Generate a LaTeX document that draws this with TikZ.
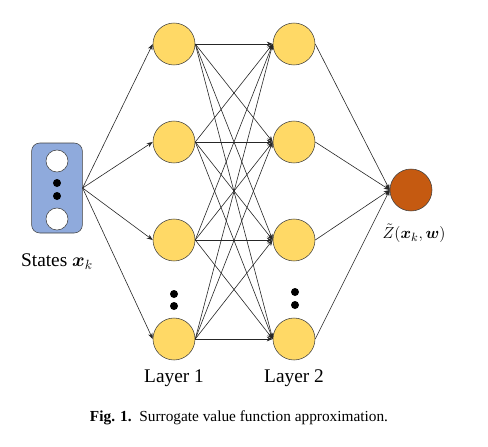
\documentclass[tikz,border=0pt]{standalone}
\usepackage{fontspec}
\setmainfont{Liberation Serif}
\usepackage{bm}
\usetikzlibrary{arrows.meta,positioning}
\definecolor{neuron}{HTML}{FFD966}
\definecolor{inputbox}{HTML}{8FAADC}
\definecolor{outneuron}{HTML}{C55A11}
\tikzset{
  neuron/.style={circle,draw=black!75,fill=neuron,minimum size=31.5pt,inner sep=0pt},
  statebox/.style={rectangle,rounded corners=6pt,draw=black!75,fill=inputbox,
    minimum width=38pt,minimum height=67.5pt},
  slot/.style={circle,draw=black!75,fill=white,minimum size=16.5pt,inner sep=0pt},
  vdot/.style={circle,fill=black,minimum size=6pt,inner sep=0pt},
  conn/.style={-{Stealth[length=4.5pt,width=3.5pt]},black!85,line width=0.45pt},
  lbl/.style={font=\fontsize{14.5}{17}\selectfont,inner sep=1pt}
}

\begin{document}
\begin{tikzpicture}[x=0.75pt,y=-0.75pt]
\useasboundingbox (0,0) rectangle (488,446);

% input
\node[statebox] (inp) at (57,188) {};
\node[slot] (inp-1) at (57,161) {};
\node[slot] (inp-2) at (57,219) {};
\node[vdot] (inpd-1) at (57,183) {};
\node[vdot] (inpd-2) at (57,196) {};
\node[lbl] (inplbl) at (57,262) {States $\bm{x}_k$};

% layer 1
\node[neuron] (l1-1) at (174,44) {};
\node[neuron] (l1-2) at (174,142) {};
\node[neuron] (l1-3) at (174,240) {};
\node[neuron] (l1-4) at (174,339) {};
\node[vdot] (l1d-1) at (174,294) {};
\node[vdot] (l1d-2) at (174,306) {};
\node[lbl] (l1lbl) at (174,378) {Layer 1};

% layer 2
\node[neuron] (l2-1) at (294,44) {};
\node[neuron] (l2-2) at (294,142) {};
\node[neuron] (l2-3) at (294,240) {};
\node[neuron] (l2-4) at (294,339) {};
\node[vdot] (l2d-1) at (295,292) {};
\node[vdot] (l2d-2) at (295,305) {};
\node[lbl] (l2lbl) at (294,378) {Layer 2};

% output
\node[neuron,fill=outneuron] (out) at (411,190) {};
\node[lbl,font=\fontsize{13}{15}\selectfont] (outlbl) at (414,233) {$\tilde{Z}(\bm{x}_k,\bm{w})$};

% input -> layer 1
\draw[conn] (inp.east) -- (l1-1.west);
\draw[conn] (inp.east) -- (l1-2.west);
\draw[conn] (inp.east) -- (l1-3.west);
\draw[conn] (inp.east) -- (l1-4.west);

% layer 1 -> layer 2
\begin{scope}
\draw[conn] (l1-1.east) -- (l2-1.west);
\draw[conn] (l1-1.east) -- (l2-2.west);
\draw[conn] (l1-1.east) -- (l2-3.west);
\draw[conn] (l1-1.east) -- (l2-4.west);
\end{scope}

\begin{scope}
\draw[conn] (l1-2.east) -- (l2-1.west);
\draw[conn] (l1-2.east) -- (l2-2.west);
\draw[conn] (l1-2.east) -- (l2-3.west);
\draw[conn] (l1-2.east) -- (l2-4.west);
\end{scope}

\begin{scope}
\draw[conn] (l1-3.east) -- (l2-1.west);
\draw[conn] (l1-3.east) -- (l2-2.west);
\draw[conn] (l1-3.east) -- (l2-3.west);
\draw[conn] (l1-3.east) -- (l2-4.west);
\end{scope}

\begin{scope}
\draw[conn] (l1-4.east) -- (l2-1.west);
\draw[conn] (l1-4.east) -- (l2-2.west);
\draw[conn] (l1-4.east) -- (l2-3.west);
\draw[conn] (l1-4.east) -- (l2-4.west);
\end{scope}

% layer 2 -> output
\draw[conn] (l2-1.east) -- (out.west);
\draw[conn] (l2-2.east) -- (out.west);
\draw[conn] (l2-3.east) -- (out.west);
\draw[conn] (l2-4.east) -- (out.west);

% caption
\node[font=\fontsize{11.5}{13}\selectfont] (cap) at (239,418)
  {\textbf{Fig. 1.}\enspace Surrogate value function approximation.};
\end{tikzpicture}
\end{document}
